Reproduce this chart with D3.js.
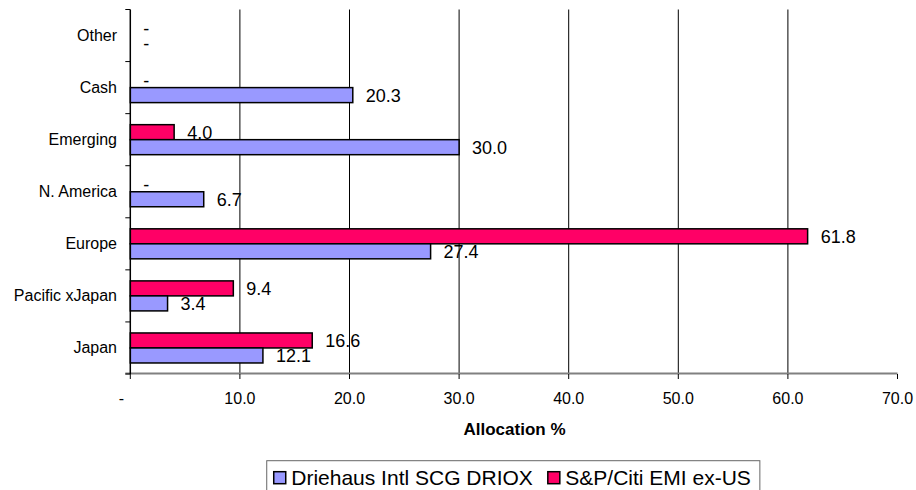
<!DOCTYPE html>
<html>
<head>
<meta charset="utf-8">
<script src="https://cdn.jsdelivr.net/npm/d3@7"></script>
<style>
  html, body { margin: 0; padding: 0; background: #fff; }
  svg { display: block; }
  text { font-family: Arial, "Liberation Sans", sans-serif; fill: #000; }
</style>
</head>
<body>
<svg id="chart" width="916" height="490"></svg>
<script>
// ---- data ----
const categories = ["Other", "Cash", "Emerging", "N. America", "Europe", "Pacific xJapan", "Japan"];
const driehausValues = [0, 20.3, 30.0, 6.7, 27.4, 3.4, 12.1];
const spCitiValues   = [0, 0, 4.0, 0, 61.8, 9.4, 16.6];
const seriesNames = ["Driehaus Intl SCG DRIOX", "S&P/Citi EMI ex-US"];
const xTicks = [0, 10, 20, 30, 40, 50, 60, 70];
const axisTitle = "Allocation %";

// ---- layout ----
const svg = d3.select("#chart");
const plotL = 130.3, plotR = 897.5, plotT = 9.5, plotB = 374;
const colors = { dri: "#9999FF", sp: "#FF0066" };

const x = d3.scaleLinear().domain([0, 70]).range([plotL, plotR]);
const y = d3.scaleBand().domain(categories).range([plotT, plotB]).padding(0);
const sub = d3.scaleBand().domain(["sp", "dri"]).range([0, y.bandwidth()])
  .paddingInner(0).paddingOuter(0.735);

const fmt = v => v === 0 ? "-" : v.toFixed(1);

// gridlines (no line at 0 or 70)
svg.append("g").selectAll("line")
  .data(xTicks.filter(t => t > 0 && t < 70))
  .join("line")
  .attr("x1", d => x(d)).attr("x2", d => x(d))
  .attr("y1", plotT).attr("y2", plotB)
  .attr("stroke", "#000").attr("stroke-width", 1);

// bars
const rows = categories.map((c, i) => ({ cat: c, dri: driehausValues[i], sp: spCitiValues[i] }));
const g = svg.append("g");
["sp", "dri"].forEach(key => {
  g.selectAll("rect." + key)
    .data(rows.filter(r => r[key] > 0))
    .join("rect")
    .attr("class", key)
    .attr("x", x(0))
    .attr("y", d => y(d.cat) + sub(key))
    .attr("width", d => x(d[key]) - x(0))
    .attr("height", sub.bandwidth())
    .attr("fill", colors[key])
    .attr("stroke", "#000")
    .attr("stroke-width", 1.5);
  g.selectAll("text." + key)
    .data(rows)
    .join("text")
    .attr("class", key)
    .attr("x", d => x(d[key]) + 13)
    .attr("y", d => y(d.cat) + sub(key) + sub.bandwidth() / 2 + 6.5)
    .attr("font-size", 18)
    .text(d => fmt(d[key]));
});

// x axis
svg.append("line")
  .attr("x1", plotL - 5).attr("x2", plotR)
  .attr("y1", plotB - 0.5).attr("y2", plotB - 0.5)
  .attr("stroke", "#808080").attr("stroke-width", 2);
svg.append("g").selectAll("line")
  .data(xTicks).join("line")
  .attr("x1", d => x(d)).attr("x2", d => x(d))
  .attr("y1", plotB).attr("y2", plotB + 5)
  .attr("stroke", "#000").attr("stroke-width", 1);
svg.append("g").selectAll("text")
  .data(xTicks).join("text")
  .attr("x", d => x(d) + (d === 0 ? -9 : 0))
  .attr("y", 404)
  .attr("text-anchor", "middle")
  .attr("font-size", 16)
  .text(d => fmt(d));

// y axis
svg.append("line")
  .attr("x1", plotL).attr("x2", plotL)
  .attr("y1", plotT).attr("y2", plotB)
  .attr("stroke", "#000").attr("stroke-width", 1.5);
const boundaries = categories.map(c => y(c)).concat([plotB]);
svg.append("g").selectAll("line")
  .data(boundaries).join("line")
  .attr("x1", plotL - 5).attr("x2", plotL)
  .attr("y1", d => d).attr("y2", d => d)
  .attr("stroke", "#000").attr("stroke-width", 1);
svg.append("g").selectAll("text")
  .data(categories).join("text")
  .attr("x", 117)
  .attr("y", d => y(d) + y.bandwidth() / 2 + 5.5)
  .attr("text-anchor", "end")
  .attr("font-size", 16)
  .text(d => d);

// axis title
svg.append("text")
  .attr("x", 514.5).attr("y", 435)
  .attr("text-anchor", "middle")
  .attr("font-size", 17)
  .attr("font-weight", "bold")
  .text(axisTitle);

// legend
const lg = svg.append("g");
const box = lg.append("rect")
  .attr("fill", "#fff").attr("stroke", "#666").attr("stroke-width", 1);
const swatchSize = 12;
let cx = 0;
const items = [{ name: seriesNames[0], key: "dri" }, { name: seriesNames[1], key: "sp" }];
items.forEach((it) => {
  lg.append("rect")
    .attr("x", cx).attr("y", 0)
    .attr("width", swatchSize).attr("height", swatchSize)
    .attr("fill", colors[it.key]).attr("stroke", "#000").attr("stroke-width", 1.5);
  const t = lg.append("text")
    .attr("x", cx + 17.5).attr("y", 13.5)
    .attr("font-size", 21)
    .text(it.name);
  const w = t.node().getComputedTextLength();
  cx = cx + 17.5 + w + 15;
});
const contentW = cx - 15;
const padL = 7, padR = 9;
const boxW = contentW + padL + padR;
const boxX = 513.3 - boxW / 2;
box.attr("x", -padL).attr("y", -11).attr("width", boxW).attr("height", 40);
lg.attr("transform", `translate(${boxX + padL},${471.7})`);
</script>
</body>
</html>
